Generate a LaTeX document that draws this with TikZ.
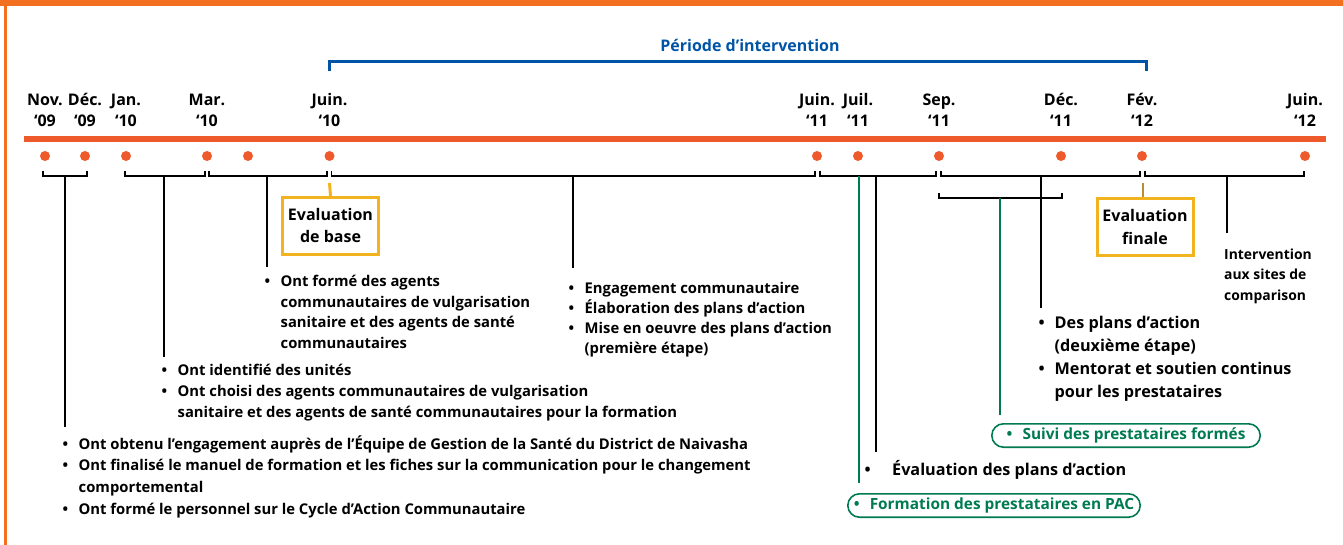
\documentclass[tikz,border=0pt]{standalone}
\usepackage{fontspec}
\setmainfont{Open Sans}
\definecolor{framecol}{RGB}{243,112,33}
\definecolor{dotcol}{RGB}{239,90,45}
\definecolor{bluecol}{RGB}{0,84,166}
\definecolor{goldcol}{RGB}{242,180,30}
\definecolor{goldstem}{RGB}{190,140,50}
\definecolor{greencol}{RGB}{0,122,80}
\newcommand\bul[1][16pt]{\makebox[#1][l]{\textbullet}}
\newcommand\hang{\hspace*{16pt}}
\begin{document}
\begin{tikzpicture}[x=1pt,y=-1pt,
  dot/.style={circle,fill=dotcol,inner sep=0pt,minimum size=10pt},
  datetxt/.style={anchor=base,inner sep=0pt,font=\fontsize{16}{18}\selectfont\bfseries},
  brk/.style={line width=1.3pt,black},
  stem/.style={line width=1.4pt,black},
  gstem/.style={line width=1.4pt,greencol},
  listtxt/.style={anchor=base west,inner sep=0pt,align=left,font=\fontsize{14.8}{21}\selectfont\bfseries},
  biglist/.style={listtxt,font=\fontsize{16.2}{23}\selectfont\bfseries},
  evalbox/.style={draw=goldcol,line width=3pt,minimum width=96pt,minimum height=57pt,align=center,inner sep=0pt,font=\fontsize{16}{22}\selectfont\bfseries},
  oval/.style={draw=greencol,line width=1.6pt,rounded corners=11.7pt,minimum height=23.4pt,text=greencol,font=\fontsize{15.4}{17}\selectfont\bfseries,inner sep=0pt}
]
\useasboundingbox (0,0) rectangle (1343,545);

% frame
\fill[framecol] (0,0) rectangle (1343,6.5);
\fill[framecol] (3.5,0) rectangle (6.5,545);

% time axis
\draw[dotcol,line width=5.5pt] (24,139) -- (1326,139);

% month dots
\foreach \n/\x in {nov09/45,dec09/85,jan10/126,mar10/207,apr10/248,jun10/329.5,
                   jun11/817,jul11/858,sep11/939,dec11/1061,feb12/1142,jun12/1305}
  \node[dot] (\n) at (\x,156) {};

% month labels
\foreach \n/\x/\mo/\yr in {nov09/45/Nov./‘09,dec09/85/Déc./‘09,jan10/126/Jan./‘10,
                           mar10/207/Mar./‘10,jun10/329.5/Juin./‘10,jun11/817/Juin./‘11,
                           jul11/858/Juil./‘11,sep11/939/Sep./‘11,dec11/1061/Déc./‘11,
                           feb12/1142/Fév./‘12,jun12/1305/Juin./‘12}{
  \node[datetxt] (mo-\n) at (\x,105.5) {\mo};
  \node[datetxt] (yr-\n) at (\x,126.5) {\yr};
}

% intervention period
\node[anchor=base,inner sep=0pt,text=bluecol,font=\fontsize{16}{18}\selectfont\bfseries]
  (period) at (750,51.5) {Période d\char"0027 intervention};
\draw[bluecol,line width=3pt] (jun10 |- 0,71.5) -- (jun10 |- 0,62) -- (1146,62) -- (1146,71.5);

% brackets under the dots
\draw[brk] (43,171) -- (43,176) -- (87,176) -- (87,171);
\draw[brk] (125,171) -- (125,176) -- (205,176) -- (205,171);
\draw[brk] (209,171) -- (209,176) -- (327,176) -- (327,171);
\draw[brk] (331.5,171) -- (331.5,176) -- (815,176) -- (815,171);
\draw[brk] (820,171) -- (820,176) -- (936,176) -- (936,171);
\draw[brk] (941,171) -- (941,176) -- (1140,176) -- (1140,171);
\draw[brk] (1145,171) -- (1145,176) -- (1304,176) -- (1304,171);
\draw[brk] (939,193) -- (939,198) -- (1062,198) -- (1062,193);

\coordinate (bA) at (65,176);
\coordinate (bB) at (164,176);
\coordinate (bC) at (267,176);
\coordinate (bD) at (573,176);
\coordinate (bE) at (876,176);
\coordinate (bF) at (1041,176);
\coordinate (bG) at (1227,176);
\coordinate (bS) at (1000,198);
\coordinate (bJ) at (859,176);

% evaluation boxes
\node[evalbox] (evbase) at (330.5,226) {Evaluation\\de base};
\node[evalbox] (evfin) at (1145,227) {Evaluation\\finale};
\draw[goldcol,line width=3pt] (jun10 |- 0,183) -- (evbase.north);
\draw[goldstem,line width=2pt] (1143,183) -- (evfin.north -| 1143,0);

% activity lists (anchored on the baseline of their last line)
\node[listtxt,font=\fontsize{14.8}{21.6}\selectfont\bfseries] (listA) at (62.5,514)
  {\bul Ont obtenu l’engagement auprès de l’Équipe de Gestion de la Santé du District de Naivasha\\
   \bul Ont finalisé le manuel de formation et les fiches sur la communication pour le changement\\
   \hang comportemental\\
   \bul Ont formé le personnel sur le Cycle d’Action Communautaire};
\node[listtxt] (listB) at (161.5,417)
  {\bul Ont identifié des unités\\
   \bul Ont choisi des agents communautaires de vulgarisation\\
   \hang sanitaire et des agents de santé communautaires pour la formation};
\node[listtxt,font=\fontsize{14.8}{20.4}\selectfont\bfseries] (listC) at (264.5,348)
  {\bul Ont formé des agents\\
   \hang communautaires de vulgarisation\\
   \hang sanitaire et des agents de santé\\
   \hang communautaires};
\node[listtxt,font=\fontsize{14.8}{20}\selectfont\bfseries] (listD) at (568.5,353)
  {\bul Engagement communautaire\\
   \bul Élaboration des plans d’action\\
   \bul Mise en oeuvre des plans d’action\\
   \hang (première étape)};
\node[biglist] (listE) at (1038.5,397)
  {\bul Des plans d’action\\
   \hang (deuxième étape)\\
   \bul Mentorat et soutien continus\\
   \hang pour les prestataires};
\node[biglist] (listF) at (864.5,475)
  {\bul[27.5pt]Évaluation des plans d’action};
\node[listtxt,font=\fontsize{13.9}{20.5}\selectfont\bfseries] (listG) at (1224,300)
  {Intervention\\aux sites de\\comparison};

% provider training ovals
\node[oval,minimum width=268.4pt] (suivi) at (1126,435.5)
  {\bul[16pt]Suivi des prestataires formés};
\node[oval,minimum width=292.4pt] (formation) at (994,505.5)
  {\bul[16pt]Formation des prestataires en PAC};

% stems
\draw[stem] (bA) -- (65,427);
\draw[stem] (bB) -- (164,357);
\draw[stem] (bC) -- (267,267);
\draw[stem] (bD) -- (573,268);
\draw[stem] (bE) -- (876,452);
\draw[stem] (bF) -- (1041,308);
\draw[stem] (bG) -- (1227,233);
\draw[gstem] (bJ) -- (859,483);
\draw[gstem] (bS) -- (1000,415);
\end{tikzpicture}
\end{document}
